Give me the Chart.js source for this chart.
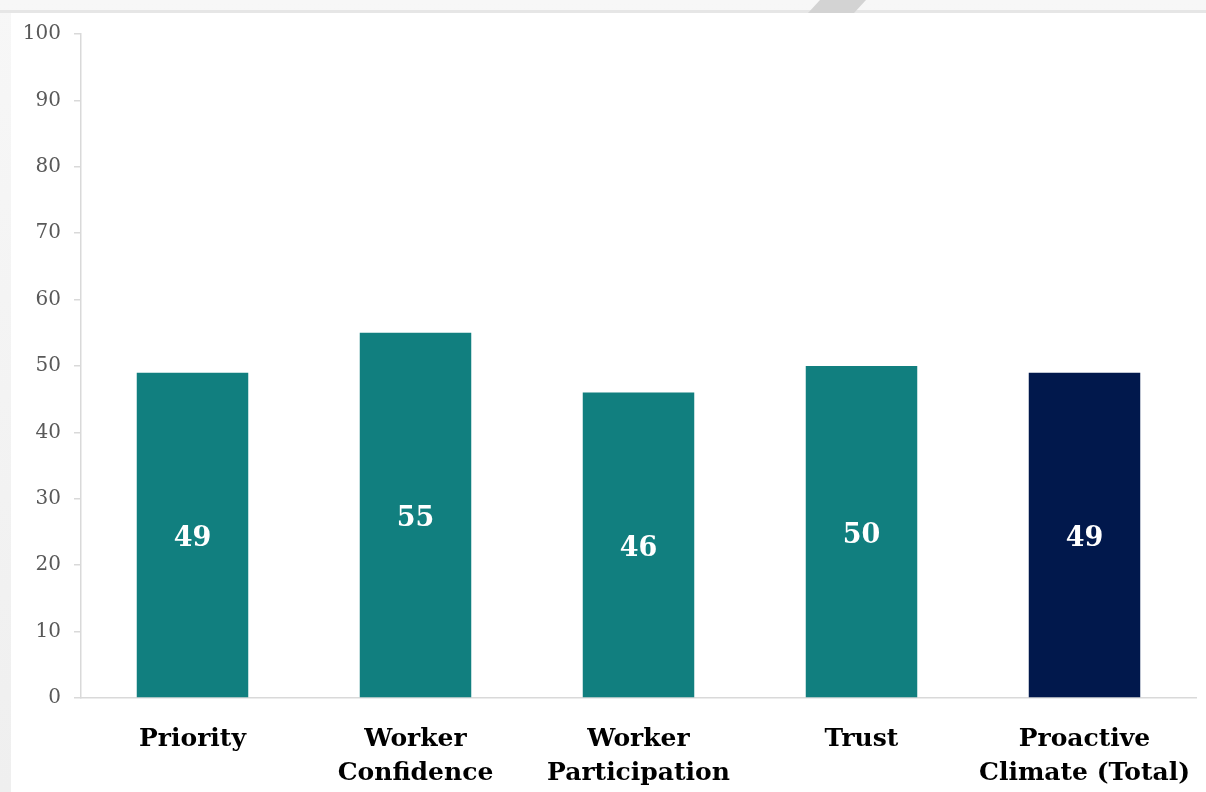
<!DOCTYPE html>
<html>
<head>
<meta charset="utf-8">
<script src="https://cdn.jsdelivr.net/npm/chart.js@4.4.1/dist/chart.umd.min.js"></script>
<style>
  html, body { margin: 0; padding: 0; }
  body {
    width: 1206px; height: 792px; overflow: hidden;
    background: linear-gradient(#f7f7f7, #efefef);
    position: relative;
  }
  #marco-sup {
    position: absolute; left: 0; top: 10px; width: 1206px; height: 3px; background: #e6e6e6;
  }
  #cinta {
    position: absolute; left: 808px; top: 0; width: 58px; height: 13px; background: #d3d3d3;
    clip-path: polygon(12px 0, 58px 0, 46px 13px, 0 13px);
  }
  #lienzo {
    position: absolute; left: 11px; top: 13px; width: 1195px; height: 779px; background: #fff;
  }
</style>
</head>
<body>
<div id="marco-sup"></div>
<div id="cinta"></div>
<div id="lienzo"><canvas id="grafico" width="1195" height="779"></canvas></div>
<script>
const categorias = [['Priority'], ['Worker', 'Confidence'], ['Worker', 'Participation'], ['Trust'], ['Proactive', 'Climate (Total)']];
const valores = [49, 55, 46, 50, 49];
const colores = ['#117f7f', '#117f7f', '#117f7f', '#117f7f', '#01184c'];
const marcasY = [0, 10, 20, 30, 40, 50, 60, 70, 80, 90, 100];

const fuente = "'DejaVu Serif', 'Liberation Serif', serif";

// Etiqueta blanca con el valor en el centro de cada barra
const etiquetasValor = {
    id: 'etiquetasValor',
    afterDatasetsDraw(chart) {
        const ctx = chart.ctx;
        const meta = chart.getDatasetMeta(0);
        ctx.save();
        ctx.fillStyle = '#ffffff';
        ctx.font = "bold 27px " + fuente;
        ctx.textAlign = 'center';
        ctx.textBaseline = 'middle';
        meta.data.forEach((barra, i) => {
            const medio = (barra.y + barra.base) / 2;
            ctx.fillText(String(valores[i]), barra.x, medio + 4);
        });
        ctx.restore();
    }
};

const ctx = document.getElementById('grafico').getContext('2d');
new Chart(ctx, {
    type: 'bar',
    data: {
        labels: categorias,
        datasets: [{
            data: valores,
            backgroundColor: colores,
            borderWidth: 0,
            barPercentage: 0.5,
            categoryPercentage: 1.0
        }]
    },
    options: {
        responsive: false,
        animation: false,
        layout: { padding: { top: 21, right: 10, left: 0, bottom: 0 } },
        plugins: {
            legend: { display: false },
            tooltip: { enabled: false }
        },
        scales: {
            x: {
                grid: { display: false, drawTicks: false },
                border: { display: true, color: '#d9d9d9', width: 1.5 },
                ticks: {
                    color: '#000000',
                    padding: 24,
                    font: { family: fuente, size: 25, weight: 'bold', lineHeight: 1.36 }
                },
                afterFit(scale) {
                    scale.height = 94;
                    scale.paddingLeft = 0;
                    scale.paddingRight = 0;
                }
            },
            y: {
                min: 0, max: 100,
                afterBuildTicks(scale) { scale.ticks = marcasY.map(v => ({ value: v })); },
                grid: { display: true, drawOnChartArea: false, drawTicks: true, tickLength: 7, color: '#d9d9d9', lineWidth: 1.5 },
                border: { display: true, color: '#d9d9d9', width: 1.5 },
                ticks: {
                    color: '#595959',
                    padding: 13,
                    font: { family: fuente, size: 20 }
                },
                afterFit(scale) {
                    scale.width = 70;
                    scale.paddingTop = 0;
                    scale.paddingBottom = 0;
                }
            }
        }
    },
    plugins: [etiquetasValor]
});
</script>
</body>
</html>
